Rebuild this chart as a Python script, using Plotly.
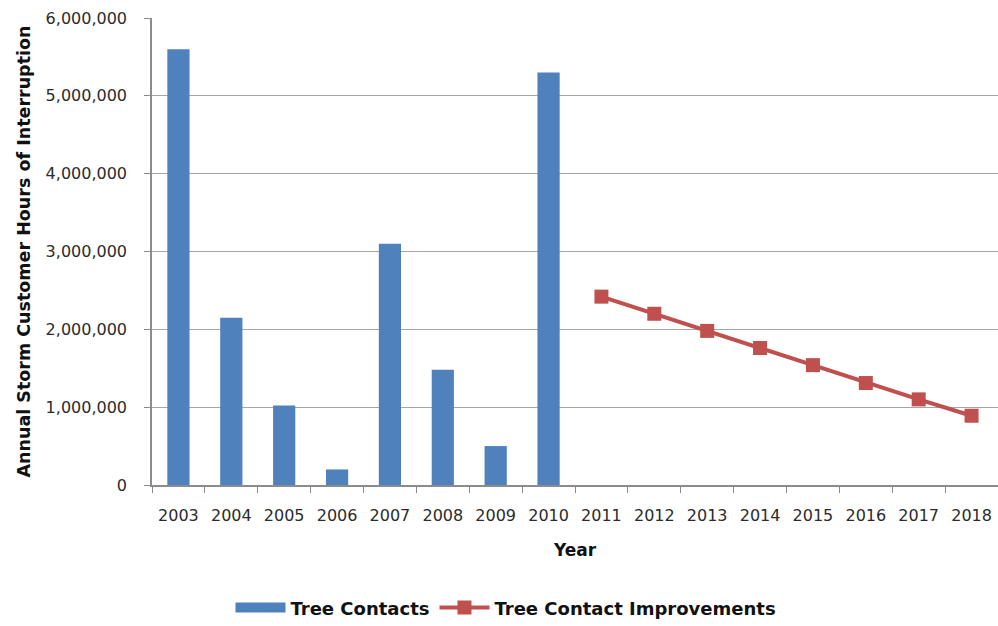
import plotly.graph_objects as go

years = [str(y) for y in range(2003, 2019)]
contact_years = ["2003", "2004", "2005", "2006", "2007", "2008", "2009", "2010"]
tree_contacts = [5600000, 2150000, 1020000, 200000, 3100000, 1480000, 500000, 5300000]
improve_years = ["2011", "2012", "2013", "2014", "2015", "2016", "2017", "2018"]
improvements = [2420000, 2200000, 1980000, 1760000, 1540000, 1310000, 1100000, 890000]
y_ticks = [0, 1000000, 2000000, 3000000, 4000000, 5000000, 6000000]

FONT = "DejaVu Sans, sans-serif"
TEXT = "#2b2b2b"
DARK = "#111111"
BLUE = "#4F81BD"
RED = "#C0504D"

fig = go.Figure()
fig.add_trace(go.Bar(
    x=contact_years, y=tree_contacts, name="Tree Contacts",
    marker=dict(color=BLUE, line=dict(width=0)), width=0.42,
    showlegend=False, legendgroup="contacts",
))
# Legend entry for the bars: drawn as a wide filled swatch
fig.add_trace(go.Scatter(
    x=[None], y=[None], name="<b>Tree Contacts</b>", mode="lines",
    line=dict(color=BLUE, width=14), legendgroup="contacts",
))
fig.add_trace(go.Scatter(
    x=improve_years, y=improvements, name="<b>Tree Contact Improvements</b>",
    mode="lines+markers",
    line=dict(color=RED, width=4),
    marker=dict(symbol="square", size=14, color=RED),
))

fig.update_layout(
    width=998, height=626,
    margin=dict(l=152, r=0, t=18, b=141),
    paper_bgcolor="white", plot_bgcolor="white",
    font=dict(family=FONT, size=16, color=TEXT),
    showlegend=True,
    legend=dict(orientation="h", xref="container", yref="container",
                x=0.507, xanchor="center", y=0.029, yanchor="middle",
                font=dict(size=18, color=DARK, family=FONT),
                itemwidth=50, traceorder="normal"),
    xaxis=dict(
        type="category", categoryorder="array", categoryarray=years,
        range=[-0.5, 15.5],
        showline=True, linecolor="#8c8c8c", linewidth=1.5,
        ticks="outside", tickson="boundaries", ticklen=6, tickcolor="#8c8c8c",
        ticklabelstandoff=15,
        showgrid=False,
        tickfont=dict(size=16, color=TEXT),
        title=dict(text="<b>Year</b>", font=dict(size=17, color=DARK), standoff=20),
    ),
    yaxis=dict(
        range=[0, 6000000], tickvals=y_ticks,
        ticktext=[f"{v:,}" for v in y_ticks],
        showline=True, linecolor="#8c8c8c", linewidth=1.5,
        ticks="outside", ticklen=6, tickcolor="#8c8c8c",
        ticklabelstandoff=14,
        showgrid=True, gridcolor="#a6a6a6", gridwidth=1,
        zeroline=False,
        tickfont=dict(size=16, color=TEXT),
    ),
    annotations=[dict(
        text="<b>Annual Storm Customer Hours of Interruption</b>",
        xref="paper", yref="paper", x=0, y=0.5,
        xanchor="center", yanchor="middle", xshift=-129, yshift=0,
        textangle=-90, showarrow=False,
        font=dict(size=17.5, color=DARK, family=FONT),
    )],
)

fig.write_html("out.html")
